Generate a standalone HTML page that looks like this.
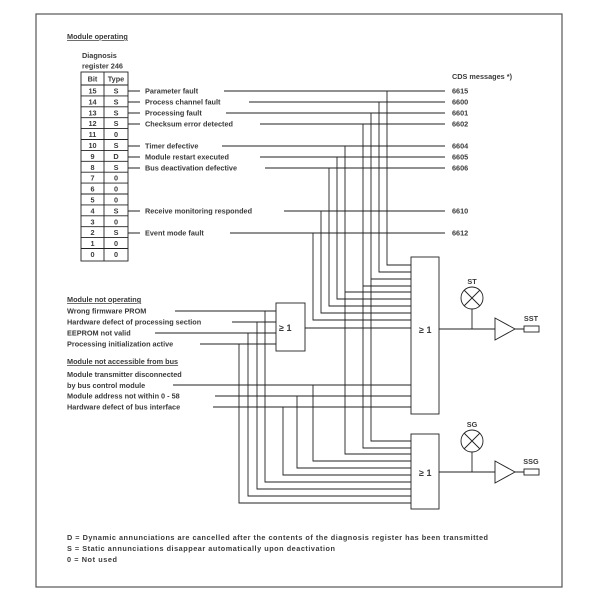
<!DOCTYPE html>
<html><head><style>html,body{margin:0;padding:0;background:#fff}</style></head><body>
<svg width="600" height="600" xmlns="http://www.w3.org/2000/svg" font-family="Liberation Sans, sans-serif" font-size="7.3" font-weight="bold" fill="#3a3a3a">
<rect x="36" y="14" width="526" height="573" fill="none" stroke="#555" stroke-width="1.2"/>
<g stroke="#222" stroke-width="0.9" fill="none">
<rect x="81" y="72" width="47" height="189"/>
<line x1="104" y1="72" x2="104" y2="261"/>
<line x1="81" y1="85" x2="128" y2="85"/>
<line x1="81" y1="95.9" x2="128" y2="95.9"/><line x1="81" y1="106.8" x2="128" y2="106.8"/><line x1="81" y1="117.7" x2="128" y2="117.7"/><line x1="81" y1="128.6" x2="128" y2="128.6"/><line x1="81" y1="139.5" x2="128" y2="139.5"/><line x1="81" y1="150.4" x2="128" y2="150.4"/><line x1="81" y1="161.3" x2="128" y2="161.3"/><line x1="81" y1="172.2" x2="128" y2="172.2"/><line x1="81" y1="183.1" x2="128" y2="183.1"/><line x1="81" y1="194" x2="128" y2="194"/><line x1="81" y1="204.9" x2="128" y2="204.9"/><line x1="81" y1="215.8" x2="128" y2="215.8"/><line x1="81" y1="226.7" x2="128" y2="226.7"/><line x1="81" y1="237.6" x2="128" y2="237.6"/><line x1="81" y1="248.5" x2="128" y2="248.5"/>
<path d="M128 91H140M128 102H140M128 113H140M128 124H140M128 146H140M128 157H140M128 168H140M128 211H140M128 233H140"/>
<path d="M224 91H445M249 102H445M226 113H445M260 124H445M222 146H445M260 157H445M265 168H445M284 211H445M230 233H445"/>
<path d="M387 91V265H411M379 102V272H411M371 113V441H411M363 124V448H411M345 146V454H411M337 157V299H411M329 168V306H411M321 211V313H411M313 233V320H411"/>
<path d="M371 279H411M363 286H411M345 292H411"/>
<rect x="411" y="257" width="28" height="157"/>
<rect x="411" y="434" width="28" height="75"/>
<path d="M175 311H276M232 322H276M155 333H276M200 344H276"/>
<rect x="276" y="303" width="29" height="48"/>
<path d="M305 328H411"/>
<path d="M265 311V482H411M257 322V489H411M248 333V496H411M239 344V503H411"/>
<path d="M173 385H411M215 396H411M213 407H411"/>
<path d="M313 385V461H411M297 396V468H411M283 407V475H411"/>
<path d="M439 329H495M472 309V329M495 318L515 329L495 340ZM515 329H524"/>
<rect x="524" y="326" width="15" height="6"/>
<circle cx="472" cy="298" r="11"/>
<path d="M464 290L480 306M480 290L464 306"/>
<path d="M439 472H495M472 452V472M495 461L515 472L495 483ZM515 472H524"/>
<rect x="524" y="469" width="15" height="6"/>
<circle cx="472" cy="441" r="11"/>
<path d="M464 433L480 449M480 433L464 449"/>
</g>
<text x="67" y="39" text-decoration="underline">Module operating</text>
<text x="82" y="58">Diagnosis</text>
<text x="82" y="68.5">register 246</text>
<g text-anchor="middle">
<text x="92.5" y="81.5">Bit</text><text x="116" y="81.5">Type</text>
<text x="92.5" y="93.5">15</text><text x="116" y="93.5">S</text>
<text x="92.5" y="104.4">14</text><text x="116" y="104.4">S</text>
<text x="92.5" y="115.3">13</text><text x="116" y="115.3">S</text>
<text x="92.5" y="126.2">12</text><text x="116" y="126.2">S</text>
<text x="92.5" y="137.1">11</text><text x="116" y="137.1">0</text>
<text x="92.5" y="148">10</text><text x="116" y="148">S</text>
<text x="92.5" y="158.9">9</text><text x="116" y="158.9">D</text>
<text x="92.5" y="169.8">8</text><text x="116" y="169.8">S</text>
<text x="92.5" y="180.7">7</text><text x="116" y="180.7">0</text>
<text x="92.5" y="191.6">6</text><text x="116" y="191.6">0</text>
<text x="92.5" y="202.5">5</text><text x="116" y="202.5">0</text>
<text x="92.5" y="213.4">4</text><text x="116" y="213.4">S</text>
<text x="92.5" y="224.3">3</text><text x="116" y="224.3">0</text>
<text x="92.5" y="235.2">2</text><text x="116" y="235.2">S</text>
<text x="92.5" y="246.1">1</text><text x="116" y="246.1">0</text>
<text x="92.5" y="257">0</text><text x="116" y="257">0</text>
<text x="472" y="284">ST</text><text x="472" y="427">SG</text>
<text x="531" y="321">SST</text><text x="531" y="464">SSG</text>
</g>
<text x="145" y="93.5">Parameter fault</text>
<text x="145" y="104.5">Process channel fault</text>
<text x="145" y="115.5">Processing fault</text>
<text x="145" y="126.5">Checksum error detected</text>
<text x="145" y="148.5">Timer defective</text>
<text x="145" y="159.5">Module restart  executed</text>
<text x="145" y="170.5">Bus deactivation defective</text>
<text x="145" y="213.5">Receive monitoring responded</text>
<text x="145" y="235.5">Event mode fault</text>
<text x="452" y="79">CDS messages *)</text>
<text x="452" y="93.5">6615</text><text x="452" y="104.5">6600</text><text x="452" y="115.5">6601</text><text x="452" y="126.5">6602</text><text x="452" y="148.5">6604</text><text x="452" y="159.5">6605</text><text x="452" y="170.5">6606</text><text x="452" y="213.5">6610</text><text x="452" y="235.5">6612</text>
<text x="67" y="302" text-decoration="underline">Module not operating</text>
<text x="67" y="313.5">Wrong firmware PROM</text>
<text x="67" y="324.5">Hardware defect of processing section</text>
<text x="67" y="335.5">EEPROM not valid</text>
<text x="67" y="346.5">Processing initialization active</text>
<text x="67" y="364" text-decoration="underline">Module not accessible from bus</text>
<text x="67" y="377">Module transmitter disconnected</text>
<text x="67" y="388">by bus control module</text>
<text x="67" y="398.5">Module address not within 0 - 58</text>
<text x="67" y="409.5">Hardware defect of bus interface</text>
<text x="419" y="333" font-size="9">≥ 1</text>
<text x="419" y="476" font-size="9">≥ 1</text>
<text x="279" y="331" font-size="9">≥ 1</text>
<g font-size="7.3">
<text x="67" y="540" textLength="421" lengthAdjust="spacing">D = Dynamic annunciations are cancelled after the contents of the diagnosis register has been transmitted</text>
<text x="67" y="551" textLength="268" lengthAdjust="spacing">S  = Static annunciations disappear automatically upon deactivation</text>
<text x="67" y="562" textLength="50" lengthAdjust="spacing">0  = Not used</text>
</g>
</svg>
</body></html>
